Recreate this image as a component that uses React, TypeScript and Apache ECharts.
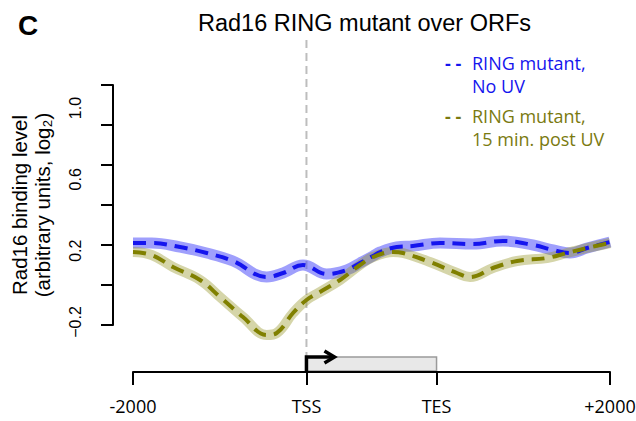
import React, { useEffect, useRef } from "react";
import * as echarts from "echarts";

// ---- data ----
const titleText = "Rad16 RING mutant over ORFs";
const panelLetter = "C";
const yAxisName = "Rad16 binding level\n(arbitrary units, log₂)";

// x positions: bp relative to TSS upstream, ORF scaled to 0..1500 (TSS..TES), downstream 1500..3500
const xTickValues = [-2000, 0, 1500, 3500];
const xTickLabels = ["-2000", "TSS", "TES", "+2000"];
const yTickLabelValues = [-0.2, 0.2, 0.6, 1.0];

const seriesNames = ["RING mutant,\nNo UV", "RING mutant,\n15 min. post UV"];

const blueX = [-2000, -1784, -1458, -1150, -847, -458, -270, -40, 18, 233, 464, 617, 767, 848, 1040, 1228, 1540, 1920, 2266, 2612, 2843, 3039, 3236, 3500];
const blueY = [0.21, 0.21, 0.19, 0.16, 0.12, 0.04, 0.06, 0.1, 0.095, 0.055, 0.075, 0.11, 0.145, 0.165, 0.19, 0.195, 0.21, 0.205, 0.22, 0.2, 0.175, 0.16, 0.185, 0.215];

const oliveX = [-2000, -1784, -1539, -1227, -997, -732, -458, -343, -155, 0, 156, 387, 617, 767, 998, 1113, 1424, 1736, 1886, 2151, 2428, 2773, 3004, 3236, 3500];
const oliveY = [0.165, 0.15, 0.09, 0.025, -0.06, -0.16, -0.25, -0.24, -0.14, -0.075, -0.035, 0.025, 0.1, 0.14, 0.165, 0.16, 0.115, 0.06, 0.04, 0.085, 0.12, 0.135, 0.16, 0.185, 0.21];

const BLUE = "#1515ee";
const OLIVE = "#808000";

function pairs(xs: number[], ys: number[]) {
  return xs.map((x, i) => [x, ys[i]]);
}

export default function App() {
  const ref = useRef<HTMLDivElement>(null);
  useEffect(() => {
    document.body.style.margin = "0";
    const chart = echarts.init(ref.current!, null, { renderer: "svg" });
    const X_OFFSET = 47;
    const option: any = {
      animation: false,
      backgroundColor: "#ffffff",
      title: {
        text: titleText,
        left: 193,
        top: 6,
        textStyle: { fontFamily: "Liberation Sans", fontSize: 23.5, fontWeight: "normal", color: "#000" },
      },
      grid: { left: 133, right: 26, top: 85, bottom: 96, containLabel: false, outerBoundsMode: "none" },
      xAxis: {
        type: "value",
        min: -2000,
        max: 3500,
        offset: X_OFFSET,
        axisLine: { show: true, onZero: false, lineStyle: { color: "#000", width: 2 } },
        axisTick: { show: true, length: 13, lineStyle: { color: "#000", width: 2 }, customValues: xTickValues },
        axisLabel: {
          customValues: xTickValues,
          formatter: (v: number) => xTickLabels[xTickValues.indexOf(v)] ?? "",
          fontFamily: "Open Sans",
          fontSize: 18,
          color: "#000",
          margin: 25,
        },
        splitLine: { show: false },
      },
      yAxis: [
        {
          type: "value",
          min: -0.2,
          max: 1.0,
          interval: 0.2,
          position: "left",
          offset: 20,
          axisLine: { show: true, onZero: false, lineStyle: { color: "#000", width: 2 } },
          axisTick: { show: true, length: 12, lineStyle: { color: "#000", width: 2 } },
          axisLabel: { show: false },
          splitLine: { show: false },
          name: yAxisName,
          nameLocation: "middle",
          nameRotate: 90,
          nameGap: 59,
          nameTextStyle: { fontFamily: "Liberation Sans", fontSize: 20.5, color: "#000", lineHeight: 23 },
        },
        {
          type: "value",
          min: -0.2168,
          max: 1.129,
          position: "left",
          offset: 20,
          axisLine: { show: false, onZero: false },
          axisTick: { show: false },
          splitLine: { show: false },
          axisLabel: {
            customValues: yTickLabelValues,
            rotate: 90,
            margin: 30,
            fontFamily: "Liberation Sans",
            fontSize: 16,
            color: "#000",
            formatter: (v: number) => (v < 0 ? "\u2212" + Math.abs(v).toFixed(1) : v.toFixed(1)),
          },
        },
      ],
      series: [
        {
          type: "line", name: seriesNames[0] + " band", data: pairs(blueX, blueY), smooth: 0.4, symbol: "none", clip: false,
          lineStyle: { color: "rgba(80,80,250,0.55)", width: 11, cap: "butt" }, z: 1,
        },
        {
          type: "line", name: seriesNames[1] + " band", data: pairs(oliveX, oliveY), smooth: 0.4, symbol: "none", clip: false,
          lineStyle: { color: "rgba(150,150,40,0.4)", width: 10, cap: "butt" }, z: 1,
        },
        {
          type: "line", name: seriesNames[0], data: pairs(blueX, blueY), smooth: 0.4, symbol: "none", clip: false,
          lineStyle: { color: BLUE, width: 4, type: [13, 8] }, z: 3,
        },
        {
          type: "line", name: seriesNames[1], data: pairs(oliveX, oliveY), smooth: 0.4, symbol: "none", clip: false,
          lineStyle: { color: OLIVE, width: 4, type: [13, 8] }, z: 4,
        },
      ],
    };
    chart.setOption(option);

    const tss = chart.convertToPixel({ xAxisIndex: 0 }, xTickValues[1]) as number;
    const tes = chart.convertToPixel({ xAxisIndex: 0 }, xTickValues[2]) as number;
    const axisY = (chart.convertToPixel({ yAxisIndex: 0 }, -0.2) as number) + X_OFFSET;
    const boxH = 15;

    const legendLines = seriesNames.map((s) => s.split("\n"));
    const legendColors = [BLUE, "#7a7a10"];
    const legendTop = [63, 116];
    const legendEls: any[] = [];
    legendLines.forEach((lines, i) => {
      legendEls.push({
        type: "text", x: 445, y: legendTop[i],
        style: { text: "- -", fill: legendColors[i], font: "bold 18px 'Open Sans'", textVerticalAlign: "middle" },
      });
      lines.forEach((ln, j) => {
        legendEls.push({
          type: "text", x: 472, y: legendTop[i] + j * 23,
          style: { text: ln, fill: legendColors[i], font: "18px 'Open Sans'", textVerticalAlign: "middle" },
        });
      });
    });

    chart.setOption({
      graphic: [
        {
          type: "text", x: 28, y: 25,
          style: { text: panelLetter, fill: "#000", font: "bold 28px 'Liberation Sans'", textAlign: "center", textVerticalAlign: "middle" },
        },
        {
          type: "line", z: 0,
          shape: { x1: tss, y1: 40, x2: tss, y2: axisY - boxH },
          style: { stroke: "#bdbdbd", lineWidth: 2, lineDash: [8, 5] },
        },
        {
          type: "rect", z: 0,
          shape: { x: tss, y: axisY - boxH, width: tes - tss, height: boxH - 1 },
          style: { fill: "#e8e8e8", stroke: "#9a9a9a", lineWidth: 1.5 },
        },
        {
          type: "polyline",
          shape: { points: [[tss, axisY], [tss, axisY - boxH], [tss + 26, axisY - boxH]] },
          style: { stroke: "#000", lineWidth: 3.5, fill: null, lineJoin: "miter" },
        },
        {
          type: "polyline",
          shape: { points: [[tss + 18, axisY - boxH - 6], [tss + 28, axisY - boxH], [tss + 18, axisY - boxH + 6]] },
          style: { stroke: "#000", lineWidth: 3.5, fill: null, lineJoin: "miter" },
        },
        ...legendEls,
      ],
    });

    return () => chart.dispose();
  }, []);
  return <div ref={ref} style={{ width: 636, height: 421 }} />;
}
